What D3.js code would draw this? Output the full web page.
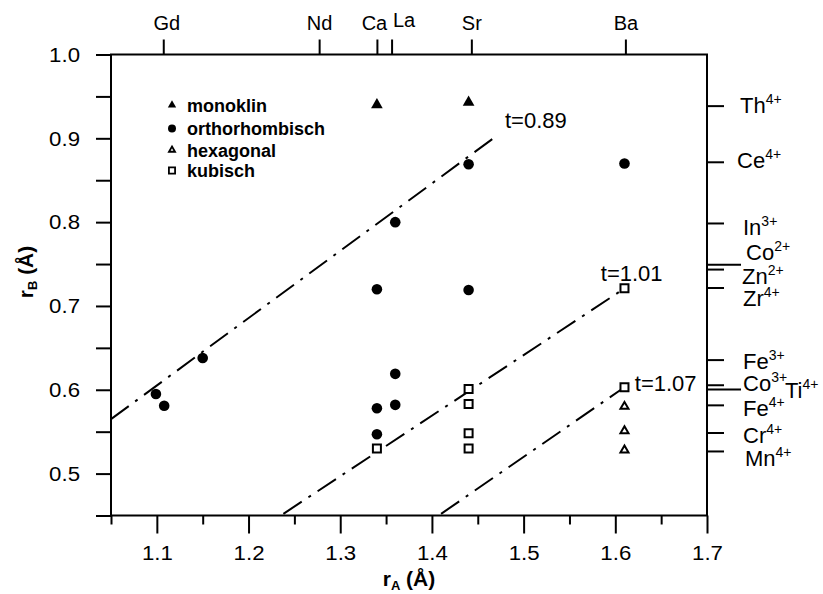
<!DOCTYPE html>
<html>
<head>
<meta charset="utf-8">
<style>
  body { margin: 0; background: #fff; }
  svg { display: block; font-family: "Liberation Sans", Arial, sans-serif; }
</style>
</head>
<body>
<svg width="823" height="594"></svg>
<script src="https://cdn.jsdelivr.net/npm/d3@7"></script>
<script>
// ---- data ----
var monoklin = [[1.34, 0.940], [1.44, 0.943]];
var orthorhombisch = [
  [1.099, 0.595], [1.108, 0.581], [1.15, 0.638], [1.34, 0.720], [1.36, 0.800],
  [1.44, 0.869], [1.44, 0.719], [1.61, 0.870], [1.36, 0.619], [1.34, 0.578],
  [1.36, 0.582], [1.34, 0.547]
];
var hexagonal = [[1.61, 0.580], [1.61, 0.551], [1.61, 0.528]];
var kubisch = [
  [1.34, 0.530], [1.44, 0.601], [1.44, 0.583], [1.44, 0.548], [1.44, 0.530],
  [1.61, 0.721], [1.61, 0.603]
];

// tolerance factor lines (start / end in data units)
var tLabels = ["t=0.89", "t=1.01", "t=1.07"];
var tStart = [[1.05, 0.565], [1.238, 0.452], [1.41, 0.452]];
var tEnd = [[1.472, 0.904], [1.606, 0.718], [1.606, 0.600]];

// A-site ions on the top axis
var aIons = ["Gd", "Nd", "Ca", "La", "Sr", "Ba"];
var aRadii = [1.107, 1.277, 1.34, 1.356, 1.443, 1.611];

// B-site ions on the right axis
var bIons = ["Th", "Ce", "In", "Co", "Zn", "Zr", "Fe", "Co", "Ti", "Fe", "Cr", "Mn"];
var bCharges = ["4+", "4+", "3+", "2+", "2+", "4+", "3+", "3+", "4+", "4+", "4+", "4+"];
var bRadii = [0.939, 0.872, 0.799, 0.7497, 0.744, 0.722, 0.636, 0.606, 0.601, 0.582, 0.549, 0.527];

var xTicks = d3.range(21, 35).map(function(d) { return d * 0.05; });   // 1.05 .. 1.70
var yTicks = d3.range(9, 21).map(function(d) { return d * 0.05; });    // 0.45 .. 1.00

// ---- layout ----
var svg = d3.select("svg");
var pL = 111, pR = 707, pT = 54.5, pB = 515.5;
var x = d3.scaleLinear().domain([1.05, 1.7]).range([pL, pR]);
var y = d3.scaleLinear().domain([0.45, 1.0]).range([pB, pT]);
var sx = 1.06; // reference glyphs are a little wide

// label tweaks for crowded ions (pixels)
var aLabelDx = [3, 0, -3, 12, 0, 0];
var aLabelDy = [0, 0, 0, -3, 0, 0];
var bLabelX = [740, 737, 743, 746, 742, 743, 743, 743, 785, 743, 743, 745];
var bLabelY = [113, 168, 235, 260, 284, 306, 369, 391, 398, 416, 443, 466];
var bLongTick = [false, false, false, true, false, false, false, false, true, false, false, false];

// frame
svg.append("rect")
  .attr("x", pL).attr("y", pT)
  .attr("width", pR - pL).attr("height", pB - pT)
  .attr("fill", "none").attr("stroke", "#000").attr("stroke-width", 2);

function isMajor(v) { return Math.abs(v * 10 - Math.round(v * 10)) < 1e-6; }

// bottom axis
var gx = svg.append("g").attr("transform", "translate(0," + pB + ")")
  .call(d3.axisBottom(x).tickValues(xTicks).tickSize(18).tickSizeOuter(0)
    .tickFormat(function(d) { return isMajor(d) ? d3.format(".1f")(d) : ""; }));
gx.select(".domain").remove();
gx.selectAll(".tick line").attr("stroke-width", 2)
  .attr("y2", function(d) { return isMajor(d) ? 18 : 9; });
gx.selectAll(".tick text").attr("y", 30).attr("font-size", 21)
  .attr("font-family", null).attr("transform", "scale(" + sx + ",1)");

// left axis
var gy = svg.append("g").attr("transform", "translate(" + pL + ",0)")
  .call(d3.axisLeft(y).tickValues(yTicks).tickSize(15).tickSizeOuter(0)
    .tickFormat(function(d) { return isMajor(d) ? d3.format(".1f")(d) : ""; }));
gy.select(".domain").remove();
gy.selectAll(".tick line").attr("stroke-width", 2);
gy.selectAll(".tick text").attr("x", -31 / sx).attr("font-size", 21)
  .attr("font-family", null).attr("transform", "scale(" + sx + ",1)");

// top axis (A-site ions)
var gt = svg.append("g").attr("transform", "translate(0," + pT + ")")
  .call(d3.axisTop(x).tickValues(aRadii).tickSize(15).tickSizeOuter(0)
    .tickFormat(function(d, i) { return aIons[i]; }));
gt.select(".domain").remove();
gt.selectAll(".tick line").attr("stroke-width", 2);
gt.selectAll(".tick text")
  .attr("x", function(d, i) { return aLabelDx[i]; })
  .attr("y", function(d, i) { return -24.5 + aLabelDy[i]; })
  .attr("dy", 0).attr("font-size", 20).attr("font-family", null);

// right axis (B-site ions)
var gr = svg.append("g").attr("transform", "translate(" + pR + ",0)")
  .call(d3.axisRight(y).tickValues(bRadii).tickSize(17).tickSizeOuter(0).tickFormat(""));
gr.select(".domain").remove();
gr.selectAll(".tick line").attr("stroke-width", 2)
  .attr("x2", function(d, i) { return bLongTick[i] ? 34 : 17; });

var bl = svg.append("g").attr("font-size", 22);
bIons.forEach(function(ion, i) {
  var t = bl.append("text").attr("x", bLabelX[i]).attr("y", bLabelY[i]);
  t.append("tspan").text(ion);
  t.append("tspan").attr("dy", -9).attr("font-size", 14).text(bCharges[i]);
});

// tolerance lines
var tLabelDx = [7, -20, 14], tLabelDy = [-6.5, -10, 1];
var lines = svg.append("g");
tLabels.forEach(function(lab, i) {
  lines.append("line")
    .attr("x1", x(tStart[i][0])).attr("y1", y(tStart[i][1]))
    .attr("x2", x(tEnd[i][0])).attr("y2", y(tEnd[i][1]))
    .attr("stroke", "#000").attr("stroke-width", 2)
    .attr("stroke-dasharray", "22,8,3,8");
  lines.append("text")
    .attr("x", x(tEnd[i][0]) + tLabelDx[i]).attr("y", y(tEnd[i][1]) + tLabelDy[i])
    .attr("font-size", 22).text(lab);
});

// markers
var series = [
  { name: "monoklin", data: monoklin, type: d3.symbolTriangle, size: 59, leg: 30, fill: "#000" },
  { name: "orthorhombisch", data: orthorhombisch, type: d3.symbolCircle, size: 88, leg: 50, fill: "#000" },
  { name: "hexagonal", data: hexagonal, type: d3.symbolTriangle, size: 28, leg: 16, fill: "none" },
  { name: "kubisch", data: kubisch, type: d3.symbolSquare, size: 64, leg: 38, fill: "none" }
];

var pts = svg.append("g");
series.forEach(function(s) {
  pts.selectAll(null).data(s.data).enter().append("path")
    .attr("transform", function(d) { return "translate(" + x(d[0]) + "," + y(d[1]) + ")"; })
    .attr("d", d3.symbol().type(s.type).size(s.size))
    .attr("fill", s.fill === "none" ? "#fff" : s.fill)
    .attr("stroke", "#000")
    .attr("stroke-width", s.fill === "none" ? 2 : 0);
});

// legend
var legY = [105, 128.5, 150, 170.5];
var leg = svg.append("g");
series.forEach(function(s, i) {
  leg.append("path")
    .attr("transform", "translate(172," + legY[i] + ")")
    .attr("d", d3.symbol().type(s.type).size(s.leg))
    .attr("fill", s.fill === "none" ? "#fff" : s.fill)
    .attr("stroke", "#000")
    .attr("stroke-width", s.fill === "none" ? 1.8 : 0);
  leg.append("text").attr("x", 187).attr("y", legY[i] + 6.5)
    .attr("font-size", 18).attr("font-weight", "bold").text(s.name);
});

// axis titles
var xt = svg.append("text").attr("x", (pL + pR) / 2).attr("y", 586)
  .attr("text-anchor", "middle").attr("font-size", 21).attr("font-weight", "bold");
xt.append("tspan").text("r");
xt.append("tspan").attr("dy", 4).attr("font-size", 13).text("A");
xt.append("tspan").attr("dy", -4).text(" (Å)");

var yt = svg.append("text").attr("transform", "translate(33,272) rotate(-90)")
  .attr("text-anchor", "middle").attr("font-size", 21).attr("font-weight", "bold");
yt.append("tspan").text("r");
yt.append("tspan").attr("dy", 4).attr("font-size", 13).text("B");
yt.append("tspan").attr("dy", -4).text(" (Å)");
</script>
</body>
</html>
